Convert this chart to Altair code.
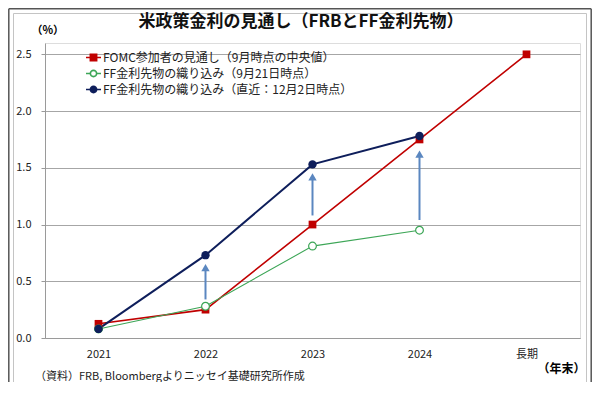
import altair as alt
import pandas as pd

categories = ["2021", "2022", "2023", "2024", "長期"]
series_names = [
    "FOMC参加者の見通し（9月時点の中央値）",
    "FF金利先物の織り込み（9月21日時点）",
    "FF金利先物の織り込み（直近：12月2日時点）",
]
fomc = [0.125, 0.25, 1.0, 1.75, 2.5]
ff_sep = [0.08, 0.28, 0.81, 0.95, None]
ff_dec = [0.08, 0.73, 1.53, 1.78, None]
arrow_cats = ["2022", "2023", "2024"]
arrow_base = [0.34, 1.08, 1.04]
arrow_tip = [0.62, 1.42, 1.62]
title_text = "米政策金利の見通し（FRBとFF金利先物）"
note_text = "（資料）FRB, Bloombergよりニッセイ基礎研究所作成"

RED = "#C00000"
GREEN = "#3DA657"
NAVY = "#0E1E5B"
ARROW = "#5B87C0"
FONT = "Noto Sans CJK JP"

rows = []
for name, vals in zip(series_names, [fomc, ff_sep, ff_dec]):
    for c, v in zip(categories, vals):
        if v is not None:
            rows.append({"cat": c, "series": name, "v": v})
df = pd.DataFrame(rows)
arr = pd.DataFrame({"cat": arrow_cats, "base": arrow_base, "tip": arrow_tip})

x_enc = alt.X(
    "cat:N",
    sort=categories,
    scale=alt.Scale(type="point", padding=0.5),
    axis=alt.Axis(
        title="（年末）", titleFont=FONT, titleFontSize=12, titleFontWeight="bold",
        titleAngle=0, titleX=540, titleY=30, titleAlign="right", titleBaseline="middle",
        labelAngle=0, ticks=False, labelPadding=10, labelFont=FONT, labelFontSize=11,
        labelColor="#222", domainColor="#9a9a9a", grid=False,
    ),
)
y_enc = alt.Y(
    "v:Q",
    scale=alt.Scale(domain=[0, 2.5]),
    axis=alt.Axis(
        values=[0, 0.5, 1.0, 1.5, 2.0, 2.5], format=".1f",
        title="（%）", titleFont=FONT, titleFontSize=11, titleFontWeight="bold",
        titleAngle=0, titleX=-14, titleY=-13, titleAlign="left", titleBaseline="middle",
        labelFont=FONT, labelFontSize=11, labelColor="#222", labelPadding=10,
        tickSize=4, tickColor="#9a9a9a", domainColor="#9a9a9a",
        grid=True, gridColor="#a6a6a6", gridWidth=1,
    ),
)

base = alt.Chart(df)
one = pd.DataFrame({"k": [0]})


def box(x0, x1, y0, y1, color, w):
    c = alt.Chart(one)
    return [
        c.mark_rule(color=color, strokeWidth=w).encode(x=alt.value(x0), x2=alt.value(x1), y=alt.value(y0)),
        c.mark_rule(color=color, strokeWidth=w).encode(x=alt.value(x0), x2=alt.value(x1), y=alt.value(y1)),
        c.mark_rule(color=color, strokeWidth=w).encode(x=alt.value(x0), y=alt.value(y0), y2=alt.value(y1)),
        c.mark_rule(color=color, strokeWidth=w).encode(x=alt.value(x1), y=alt.value(y0), y2=alt.value(y1)),
    ]


layers = box(-31.5, 541.5, -29.5, 340.5, "#c4c4c4", 1) + box(-36.2, 546.2, -34.2, 343.2, "#555555", 1.5)

styles = [
    (series_names[0], RED, 1.6, "square", True, 60),
    (series_names[1], GREEN, 1.1, "circle", False, 60),
    (series_names[2], NAVY, 2.0, "circle", True, 70),
]
for name, col, sw, shp, filled, size in styles:
    sub = base.transform_filter(alt.datum.series == name)
    layers.append(sub.mark_line(color=col, strokeWidth=sw).encode(x=x_enc, y=y_enc))

arrows_rule = alt.Chart(arr).mark_rule(color=ARROW, strokeWidth=2).encode(
    x=alt.X("cat:N", sort=categories), y=alt.Y("base:Q"), y2="tip:Q"
)
arrows_head = alt.Chart(arr).mark_point(
    shape="triangle-up", filled=True, color=ARROW, size=70, opacity=1
).encode(x=alt.X("cat:N", sort=categories), y=alt.Y("tip:Q"))
layers += [arrows_rule, arrows_head]

for name, col, sw, shp, filled, size in styles:
    sub = base.transform_filter(alt.datum.series == name)
    layers.append(
        sub.mark_point(
            shape=shp, filled=filled, color=col, size=size, opacity=1,
            strokeWidth=1.2, fill=col if filled else "white",
        ).encode(x=x_enc, y=y_enc)
    )

sq = "M-1,0L1,0M-0.42,-0.42L0.42,-0.42L0.42,0.42L-0.42,0.42Z"
circ = "M-1,0L-0.42,0M0.42,0L1,0M0.42,0A0.42,0.42 0 1,1 -0.42,0A0.42,0.42 0 1,1 0.42,0Z"
leg = dict(
    orient="none", legendX=40, legendY=6, title=None, labelFont=FONT,
    labelFontSize=12, labelColor="#222", symbolSize=225, symbolStrokeWidth=1.6,
    symbolOpacity=1, rowPadding=1, labelOffset=1, symbolType=sq, labelLimit=0,
)
legend_layer = alt.Chart(pd.DataFrame({"series": series_names, "cat": ["2021"] * 3, "v": [0, 0, 0]})).mark_point(
    opacity=0, filled=True
).encode(
    x=alt.X("cat:N", sort=categories),
    y=alt.Y("v:Q"),
    shape=alt.Shape("series:N", sort=series_names,
                    scale=alt.Scale(domain=series_names, range=[sq, circ, circ]), legend=alt.Legend(**leg)),
    stroke=alt.Stroke("series:N", sort=series_names,
                      scale=alt.Scale(domain=series_names, range=[RED, GREEN, NAVY]), legend=alt.Legend(**leg)),
    fill=alt.Fill("series:N", sort=series_names,
                  scale=alt.Scale(domain=series_names, range=[RED, "white", NAVY]), legend=alt.Legend(**leg)),
)
layers.append(legend_layer)

note = alt.Chart(pd.DataFrame({"t": [note_text]})).mark_text(
    align="left", baseline="middle", font=FONT, fontSize=11, color="#222"
).encode(text="t:N", x=alt.value(-10), y=alt.value(334))
title = alt.Chart(pd.DataFrame({"t": [title_text]})).mark_text(
    align="center", baseline="middle", font=FONT, fontSize=17, fontWeight="bold", color="#111"
).encode(text="t:N", x=alt.value(256), y=alt.value(-21))
layers += [note, title]

chart = alt.layer(*layers).properties(
    width=535, height=295,
    autosize=alt.AutoSizeParams(type="none"),
    padding={"left": 37, "top": 35, "right": 12, "bottom": 44},
).configure_view(stroke=None).configure(background="white")

chart.save("out.html", embed_options={"renderer": "svg", "actions": False})
